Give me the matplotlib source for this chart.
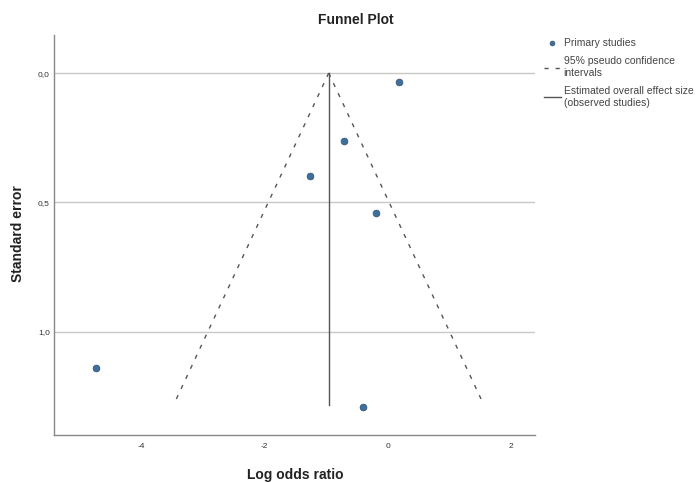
import matplotlib.pyplot as plt
import numpy as np

plt.rcParams["font.family"] = ["Liberation Sans", "DejaVu Sans"]

# study estimates (log odds ratio) and their standard errors
log_or = [-4.73, -0.40, 0.19, -0.19, -0.70, -1.26]
std_err = [1.14, 1.29, 0.035, 0.54, 0.263, 0.40]

pooled = -0.955
se_max = 1.283

x_ticks = [-4, -2, 0, 2]
y_ticks = [0.0, 0.5, 1.0]
y_tick_labels = ["0,0", "0,5", "1,0"]

fig = plt.figure(figsize=(6.96, 4.83), dpi=100)
ax = fig.add_axes([0.0776, 0.0994, 0.691, 0.828])

# funnel (95% pseudo confidence limits)
se_line = np.array([0, se_max])
ci_l, = ax.plot(pooled - 1.96 * se_line, se_line, color="#555555", lw=1.0,
                dashes=(3, 5), label="95% pseudo confidence\nintervals")
ax.plot(pooled + 1.96 * se_line, se_line, color="#555555", lw=1.0, dashes=(3, 5))
est_l, = ax.plot([pooled, pooled], [0, se_max], color="#555555", lw=1.0,
                 label="Estimated overall effect size\n(observed studies)")

pts = ax.scatter(log_or, std_err, s=24, color="#3f6f9c", edgecolor="#2f4f6f",
                 linewidth=0.5, zorder=3, label="Primary studies")

for y in y_ticks:
    ax.axhline(y, color="#c8c8c8", lw=1.0, zorder=0)

ax.set_xlim(-5.41, 2.39)
ax.set_ylim(1.40, -0.147)
ax.set_xticks(x_ticks)
ax.set_xticklabels([str(t) for t in x_ticks])
ax.set_yticks(y_ticks)
ax.set_yticklabels(y_tick_labels)
ax.tick_params(length=0, labelsize=6, colors="#333333")
ax.tick_params(axis="x", pad=6)
ax.tick_params(axis="y", pad=3)

for s in ["top", "right"]:
    ax.spines[s].set_visible(False)
for s in ["left", "bottom"]:
    ax.spines[s].set_color("#888888")
    ax.spines[s].set_linewidth(1.0)

fig.text(295 / 696, 1 - 475 / 483, "Log odds ratio", ha="center", va="center",
         fontsize=10, fontweight="bold", color="#222222")
fig.text(18 / 696, 1 - 234 / 483, "Standard error", ha="center", va="center",
         rotation=90, fontsize=10, fontweight="bold", color="#222222")
fig.text(356 / 696, 1 - 20 / 483, "Funnel Plot", ha="center", va="center",
         fontsize=10, fontweight="bold", color="#222222")

leg = fig.legend(handles=[pts, ci_l, est_l], loc="upper left", bbox_to_anchor=(0.774, 0.932),
                 frameon=False, fontsize=7.5, handlelength=1.6, handletextpad=0.3,
                 labelspacing=0.8, borderpad=0, markerscale=0.7)
for t in leg.get_texts():
    t.set_color("#444444")

fig.savefig("out.png", dpi=100)
